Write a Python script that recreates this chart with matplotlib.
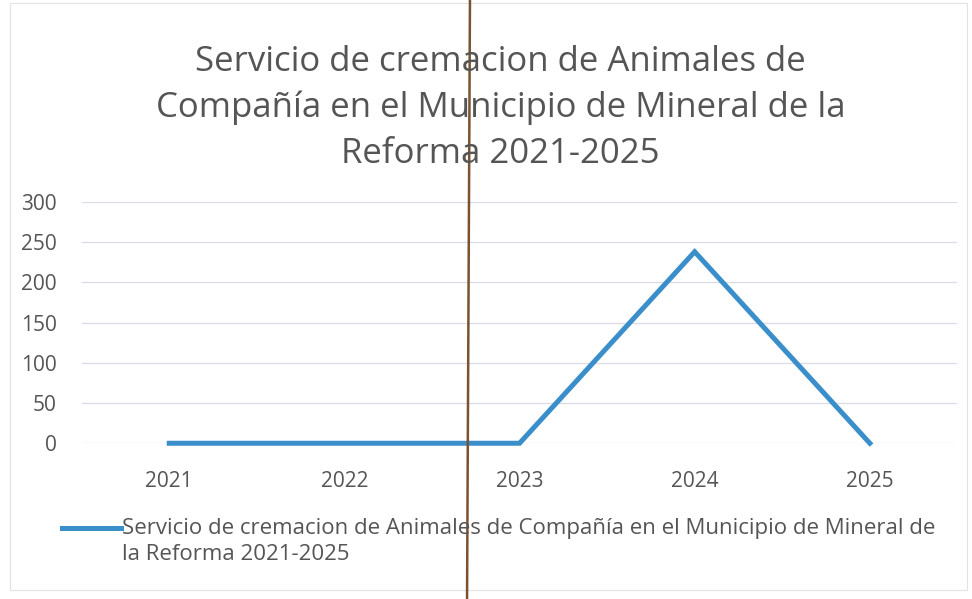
import matplotlib.pyplot as plt
from matplotlib.lines import Line2D
from matplotlib.patches import Rectangle

# Datos
anios = ['2021', '2022', '2023', '2024', '2025']
cremaciones = [0, 0, 0, 238, 0]
yticks = [0, 50, 100, 150, 200, 250, 300]

titulo = 'Servicio de cremacion de Animales de\nCompañía en el Municipio de Mineral de la\nReforma 2021-2025'
serie_l1 = 'Servicio de cremacion de Animales de Compañía en el Municipio de Mineral de'
serie_l2 = 'la Reforma 2021-2025'

plt.rcParams['font.family'] = ['Open Sans', 'DejaVu Sans']
gris = '#555555'
azul = '#3a8fcb'

fig = plt.figure(figsize=(9.72, 5.99), dpi=100)
ax = fig.add_axes([0.084, 0.260, 0.901, 0.403])

ax.plot(range(len(anios)), cremaciones, color=azul, linewidth=3.6,
        solid_joinstyle='miter', clip_on=False, zorder=3)

ax.set_xlim(-0.5, len(anios) - 0.5)
ax.set_ylim(0, 300)
ax.set_yticks(yticks)
ax.set_xticks(range(len(anios)))
ax.set_xticklabels(anios)
ax.tick_params(axis='both', length=0, labelsize=15, colors=gris)
ax.tick_params(axis='x', pad=20)
ax.tick_params(axis='y', pad=18)
ax.grid(axis='y', color='#d8dbe8', linewidth=0.9)
for s in ax.spines.values():
    s.set_visible(False)

fig.text(0.515, 0.925, titulo, ha='center', va='top', fontsize=25,
         color=gris, linespacing=1.45)

# leyenda
fig.add_artist(Line2D([0.064, 0.124], [0.119, 0.119], color=azul,
                      linewidth=3.6, transform=fig.transFigure))
fig.text(0.125, 0.118, serie_l1, ha='left', va='center', fontsize=16, color=gris)
fig.text(0.125, 0.075, serie_l2, ha='left', va='center', fontsize=16, color=gris)

# marco del grafico y pliegue del escaneo
fig.add_artist(Rectangle((0.01, 0.015), 0.985, 0.98, fill=False,
                         edgecolor='#e2e2e2', linewidth=0.8,
                         transform=fig.transFigure))
fig.add_artist(Line2D([0.4835, 0.4805], [1.0, 0.0], color='#7a5230',
                      linewidth=1.8, transform=fig.transFigure))

fig.savefig('out.png', dpi=100, facecolor='white')
